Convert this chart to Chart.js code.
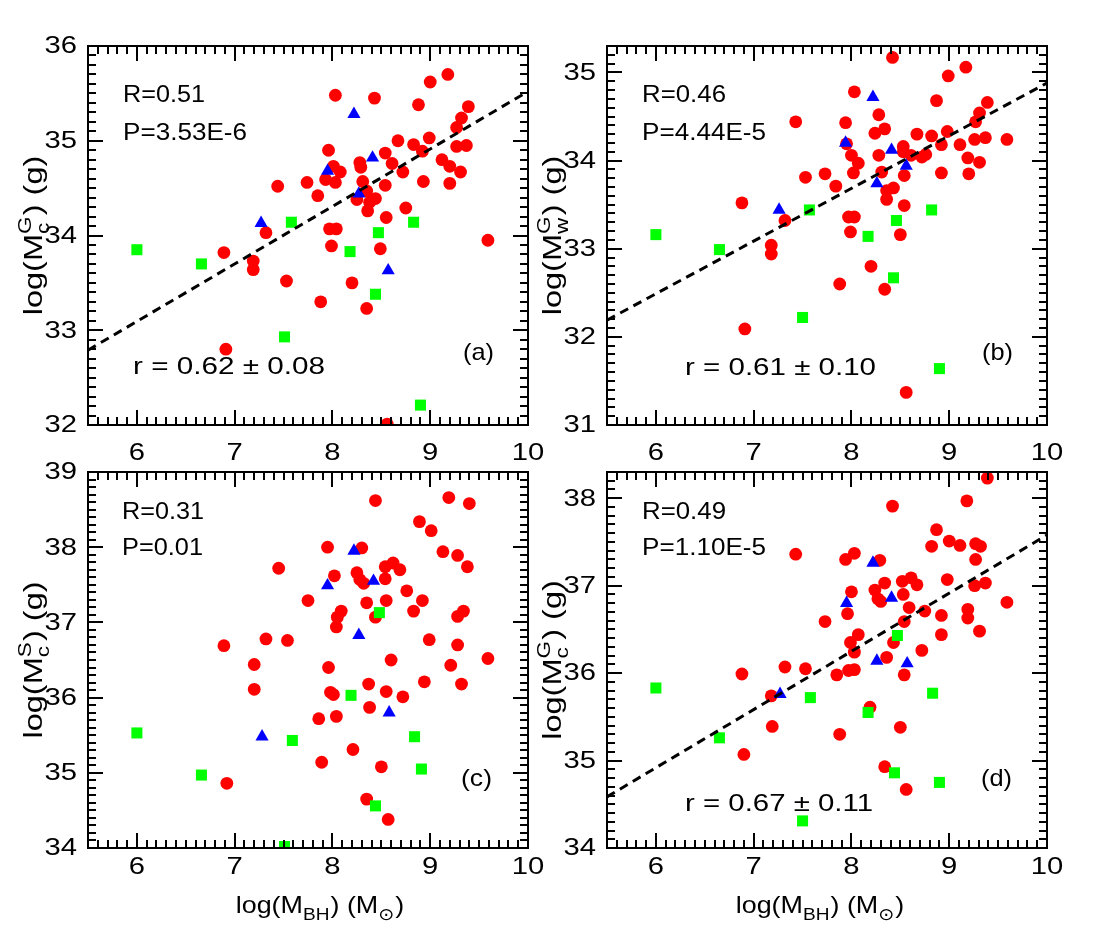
<!DOCTYPE html>
<html>
<head>
<meta charset="utf-8">
<script src="https://cdn.jsdelivr.net/npm/chart.js@4.4.1/dist/chart.umd.min.js"></script>
<style>
html,body{margin:0;padding:0;background:#ffffff;overflow:hidden;}
#wrap{position:relative;width:1102px;height:945px;background:#fff;}
#wrap canvas{position:absolute;left:0;top:0;}
</style>
</head>
<body>
<div id="wrap">
<canvas id="cA" width="1102" height="945"></canvas>
<canvas id="cB" width="1102" height="945"></canvas>
<canvas id="cC" width="1102" height="945"></canvas>
<canvas id="cD" width="1102" height="945"></canvas>
</div>
<script>
// ---------------- data ----------------
const xTicks = [6, 7, 8, 9, 10];
const yTicksA = [32, 33, 34, 35, 36];
const yTicksB = [31, 32, 33, 34, 35];
const yTicksC = [34, 35, 36, 37, 38, 39];
const yTicksD = [34, 35, 36, 37, 38];

// panel (a): log(Mc^G) vs log(MBH)
const aRed = [[8.03,35.48],[8.43,35.45],[9.18,35.70],[9.00,35.62],[8.88,35.38],[9.39,35.36],[9.32,35.24],[9.27,35.14],[8.67,35.00],[8.83,34.96],[8.99,35.03],[8.92,34.89],[9.27,34.94],[9.37,34.95],[7.96,34.90],[8.54,34.87],[8.28,34.77],[8.61,34.76],[9.12,34.80],[9.20,34.73],[9.31,34.67],[8.01,34.73],[8.08,34.67],[8.72,34.67],[8.29,34.72],[7.74,34.56],[7.93,34.59],[8.03,34.56],[8.31,34.57],[8.54,34.53],[8.93,34.57],[9.20,34.55],[7.85,34.42],[8.35,34.47],[8.25,34.38],[8.44,34.39],[8.38,34.35],[8.36,34.26],[8.75,34.29],[8.55,34.19],[7.97,34.07],[8.04,34.07],[9.59,33.95],[7.44,34.52],[7.32,34.03],[6.89,33.82],[7.19,33.73],[7.19,33.64],[7.53,33.52],[6.91,32.80],[7.99,33.89],[8.49,33.86],[8.20,33.50],[7.88,33.30],[8.35,33.23],[8.56,32.01]];
const aBlue = [[8.22,35.28],[8.41,34.82],[7.95,34.68],[8.27,34.44],[7.27,34.13],[8.57,33.63]];
const aGreen = [[7.58,34.14],[8.83,34.14],[8.47,34.03],[6.00,33.85],[6.66,33.70],[7.51,32.93],[8.18,33.83],[8.44,33.38],[8.90,32.21]];
const aFit = [[5.5,32.79],[10,35.52]];
const statsA = ['R=0.51', 'P=3.53E-6'];
const corrA = 'r = 0.62 \u00b1 0.08';

// panel (b): log(Mw^G) vs log(MBH)
const bRed = [[7.43,34.44],[6.88,33.52],[7.32,33.32],[7.18,33.04],[7.18,32.94],[6.91,32.09],[8.42,35.17],[9.17,35.06],[8.99,34.96],[8.03,34.78],[8.87,34.68],[9.39,34.66],[9.31,34.54],[8.28,34.52],[7.94,34.43],[9.27,34.44],[8.34,34.36],[8.24,34.31],[8.98,34.33],[8.67,34.30],[8.82,34.28],[9.26,34.24],[9.37,34.26],[9.59,34.24],[8.92,34.18],[9.11,34.18],[7.95,34.19],[8.53,34.16],[8.53,34.10],[8.61,34.06],[8.72,34.04],[8.76,34.07],[8.00,34.06],[8.28,34.06],[9.19,34.03],[8.07,33.97],[9.31,33.98],[8.02,33.86],[8.31,33.87],[8.92,33.86],[9.20,33.85],[8.54,33.83],[7.73,33.85],[7.53,33.81],[7.84,33.71],[8.43,33.69],[8.36,33.66],[8.36,33.56],[8.54,33.49],[7.97,33.36],[8.03,33.36],[7.99,33.19],[8.50,33.16],[8.20,32.80],[7.88,32.60],[8.34,32.54],[8.56,31.37]];
const bBlue = [[8.22,34.72],[7.94,34.20],[8.41,34.12],[8.56,33.94],[8.26,33.74],[7.26,33.44]];
const bGreen = [[6.00,33.16],[6.65,32.99],[7.50,32.22],[7.57,33.44],[8.82,33.44],[8.46,33.32],[8.17,33.14],[8.43,32.67],[8.90,31.64]];
const bFit = [[5.5,32.19],[10,34.88]];
const statsB = ['R=0.46', 'P=4.44E-5'];
const corrB = 'r = 0.61 \u00b1 0.10';

// panel (c): log(Mc^S) vs log(MBH)
const cRed = [[7.45,37.72],[7.75,37.29],[6.89,36.69],[7.32,36.78],[7.54,36.76],[7.20,36.44],[7.20,36.11],[6.92,34.86],[8.44,38.62],[9.19,38.66],[9.40,38.58],[8.89,38.34],[9.01,38.22],[7.95,38.00],[8.30,37.99],[9.13,37.94],[9.28,37.89],[9.38,37.74],[8.62,37.79],[8.54,37.74],[8.69,37.70],[8.02,37.62],[8.25,37.66],[8.28,37.57],[8.32,37.52],[8.54,37.58],[8.76,37.42],[8.35,37.26],[8.55,37.29],[8.92,37.29],[8.09,37.15],[8.05,37.07],[8.04,36.94],[8.83,37.15],[8.44,37.07],[9.34,37.15],[9.28,37.08],[8.99,36.77],[9.28,36.70],[8.60,36.50],[9.59,36.52],[9.21,36.43],[7.96,36.40],[8.37,36.18],[8.94,36.21],[9.32,36.18],[7.98,36.07],[8.01,36.04],[8.55,36.08],[8.72,36.01],[8.38,35.87],[7.86,35.72],[8.04,35.75],[8.21,35.31],[7.89,35.14],[8.50,35.08],[8.35,34.65],[8.57,34.38]];
const cBlue = [[8.22,37.95],[7.95,37.49],[8.42,37.55],[8.27,36.83],[8.58,35.80],[7.28,35.48]];
const cGreen = [[6.00,35.53],[7.59,35.43],[6.66,34.97],[7.51,34.02],[8.48,37.13],[8.19,36.03],[8.84,35.48],[8.91,35.05],[8.44,34.56]];
const statsC = ['R=0.31', 'P=0.01'];

// panel (d): log(Mc^G) vs log(MBH)
const dRed = [[7.43,37.36],[7.32,36.07],[6.88,35.99],[7.18,35.74],[7.19,35.39],[6.90,35.07],[9.39,38.23],[9.18,37.97],[8.42,37.91],[8.87,37.64],[9.00,37.51],[8.82,37.45],[9.11,37.46],[9.27,37.48],[9.32,37.45],[8.03,37.37],[7.94,37.30],[8.29,37.29],[9.27,37.30],[8.61,37.09],[8.52,37.05],[8.67,37.01],[8.34,37.03],[8.98,37.07],[9.37,37.03],[9.26,37.00],[8.00,36.93],[8.24,36.95],[8.53,36.90],[8.27,36.85],[8.30,36.82],[9.59,36.81],[8.59,36.75],[8.75,36.71],[9.19,36.73],[9.19,36.63],[8.92,36.66],[7.96,36.68],[7.73,36.59],[8.54,36.59],[9.31,36.48],[8.92,36.44],[8.07,36.44],[7.99,36.35],[8.43,36.35],[8.03,36.24],[8.72,36.26],[8.36,36.18],[7.53,36.05],[7.97,36.03],[8.03,36.04],[7.85,35.98],[8.54,35.98],[8.19,35.61],[8.50,35.38],[7.88,35.30],[8.34,34.93],[8.56,34.67]];
const dBlue = [[8.22,37.26],[7.95,36.80],[8.41,36.86],[8.26,36.14],[8.57,36.11],[7.27,35.76]];
const dGreen = [[6.00,35.83],[6.65,35.26],[7.50,34.31],[8.47,36.43],[7.58,35.72],[8.83,35.77],[8.17,35.55],[8.44,34.86],[8.90,34.75]];
const dFit = [[5.5,34.585],[10,37.58]];
const statsD = ['R=0.49', 'P=1.10E-5'];
const corrD = 'r = 0.67 \u00b1 0.11';

// axis titles (text with sub/superscripts)
const yTitleA = [{t:'log(M'},{sub:'c',sup:'G'},{t:') (g)'}];
const yTitleB = [{t:'log(M'},{sub:'w',sup:'G'},{t:') (g)'}];
const yTitleC = [{t:'log(M'},{sub:'c',sup:'S'},{t:') (g)'}];
const yTitleD = [{t:'log(M'},{sub:'c',sup:'G'},{t:') (g)'}];
const xTitle = [{t:'log(M'},{sub:'BH'},{t:') (M'},{sub:'\u2299'},{t:')'}];

// ---------------- drawing helpers ----------------
const FONT = '"Liberation Sans", Arial, Helvetica, "DejaVu Sans", sans-serif';

function drawStr(ctx, s, x, y, size, o) {
  ctx.save();
  ctx.font = size + 'px ' + FONT;
  ctx.textBaseline = 'middle';
  ctx.textAlign = 'left';
  ctx.fillStyle = '#000';
  const mw = ctx.measureText(s).width;
  const sx = o.w ? o.w / mw : (o.sx || 1);
  const w = mw * sx;
  const x0 = o.align === 'right' ? x - w : (o.align === 'center' ? x - w / 2 : x);
  ctx.translate(x0, y);
  ctx.scale(sx, 1);
  ctx.fillText(s, 0, 0);
  ctx.restore();
}

function drawRich(ctx, segs, cx, cy, rot, size, sx) {
  const sub = Math.round(size * 0.7);
  ctx.save();
  ctx.translate(cx, cy);
  if (rot) ctx.rotate(-Math.PI / 2);
  ctx.scale(sx, 1);
  ctx.fillStyle = '#000';
  ctx.textBaseline = 'alphabetic';
  ctx.textAlign = 'left';
  const widths = segs.map(s => {
    if (s.t !== undefined) { ctx.font = size + 'px ' + FONT; return ctx.measureText(s.t).width; }
    ctx.font = sub + 'px ' + FONT;
    return Math.max(s.sub ? ctx.measureText(s.sub).width : 0, s.sup ? ctx.measureText(s.sup).width : 0) + 1;
  });
  const total = widths.reduce((a, b) => a + b, 0);
  let x = -total / 2;
  segs.forEach((s, i) => {
    if (s.t !== undefined) { ctx.font = size + 'px ' + FONT; ctx.fillText(s.t, x, 0); }
    else {
      ctx.font = sub + 'px ' + FONT;
      if (s.sub) ctx.fillText(s.sub, x, size * 0.28);
      if (s.sup) ctx.fillText(s.sup, x, -size * 0.42);
    }
    x += widths[i];
  });
  ctx.restore();
}

function makePlugin(p) {
  return {
    id: 'idl' + p.id,
    afterDraw(chart) {
      const ctx = chart.ctx;
      const {left, top, right, bottom} = chart.chartArea;
      const xs = chart.scales.x, ys = chart.scales.y;
      ctx.save();
      ctx.strokeStyle = '#000';
      ctx.lineWidth = 2;
      ctx.lineCap = 'butt';
      ctx.strokeRect(left, top, right - left, bottom - top);
      ctx.beginPath();
      for (let i = Math.round(xs.min * 10); i <= Math.round(xs.max * 10); i++) {
        const px = Math.round(xs.getPixelForValue(i / 10));
        const L = (i % 10 === 0) ? 15 : 8;
        ctx.moveTo(px, bottom); ctx.lineTo(px, bottom - L);
        ctx.moveTo(px, top); ctx.lineTo(px, top + L);
      }
      for (let i = Math.round(ys.min * 10); i <= Math.round(ys.max * 10); i++) {
        const py = Math.round(ys.getPixelForValue(i / 10));
        const L = (i % 10 === 0) ? 15 : 8;
        ctx.moveTo(left, py); ctx.lineTo(left + L, py);
        ctx.moveTo(right, py); ctx.lineTo(right - L, py);
      }
      ctx.stroke();
      ctx.restore();

      const xt = (xs.ticks && xs.ticks.length) ? xs.ticks.map(t => t.value) : xTicks;
      xt.forEach(v => drawStr(ctx, String(v), xs.getPixelForValue(v), bottom + p.xLabOff, 23, {align:'center', sx:1.27}));
      const yt = (ys.ticks && ys.ticks.length) ? ys.ticks.map(t => t.value) : p.yTicks;
      yt.forEach(v => drawStr(ctx, String(v), left - 11, ys.getPixelForValue(v) + 1, 23, {align:'right', sx:1.27}));

      drawStr(ctx, p.stats[0], left + p.statsX, top + p.statsY[0], 24, {w: p.statsW[0]});
      drawStr(ctx, p.stats[1], left + p.statsX, top + p.statsY[1], 24, {w: p.statsW[1]});
      if (p.corr) drawStr(ctx, p.corr, p.corrX, p.corrY, 24, {w: p.corrW});
      drawStr(ctx, p.tag, right - p.tagR, p.tagY, 24, {align:'right', w: 31});

      drawRich(ctx, p.yTitle, p.yTitleX, (top + bottom) / 2, true, 26, 1.25);
      if (p.xTitleX) drawRich(ctx, xTitle, p.xTitleX, 913, false, 24, 1.12);
    }
  };
}

const toPts = arr => arr.map(([x, y]) => ({x, y}));

const panels = [
  {id:'cA', L:88, R:528, T:46, B:425, ymin:32, ymax:36, yTicks:yTicksA, red:aRed, blue:aBlue, green:aGreen, fit:aFit,
   stats:statsA, statsX:35, statsY:[49,87], statsW:[82,124], corr:corrA, corrX:133, corrY:367, corrW:192,
   tag:'(a)', tagR:34, tagY:353, yTitle:yTitleA, yTitleX:42, xLabOff:29, xTitleX:0},
  {id:'cB', L:607, R:1047, T:46, B:425, ymin:31, ymax:35.3, yTicks:yTicksB, red:bRed, blue:bBlue, green:bGreen, fit:bFit,
   stats:statsB, statsX:35, statsY:[49,87], statsW:[84,124], corr:corrB, corrX:685, corrY:368, corrW:191,
   tag:'(b)', tagR:34, tagY:353, yTitle:yTitleB, yTitleX:561, xLabOff:29, xTitleX:0},
  {id:'cC', L:88, R:528, T:472, B:848, ymin:34, ymax:39, yTicks:yTicksC, red:cRed, blue:cBlue, green:cGreen, fit:null,
   stats:statsC, statsX:34, statsY:[40,76], statsW:[82,81], corr:null,
   tag:'(c)', tagR:36, tagY:779, yTitle:yTitleC, yTitleX:42, xLabOff:20, xTitleX:320},
  {id:'cD', L:607, R:1047, T:472, B:848, ymin:34, ymax:38.3, yTicks:yTicksD, red:dRed, blue:dBlue, green:dGreen, fit:dFit,
   stats:statsD, statsX:35, statsY:[40,76], statsW:[84,124], corr:corrD, corrX:685, corrY:804, corrW:188,
   tag:'(d)', tagR:35, tagY:779, yTitle:yTitleD, yTitleX:561, xLabOff:20, xTitleX:820}
];

panels.forEach(p => {
  const datasets = [];
  if (p.fit) datasets.push({type:'line', data: toPts(p.fit), borderColor:'#000', borderWidth:3, borderDash:[9,6],
    pointRadius:0, showLine:true, fill:false, order:0, clip:0});
  datasets.push({data: toPts(p.green), pointStyle:'rect', pointRadius:7.8, backgroundColor:'#00ff00', borderWidth:0, order:1, clip:0});
  datasets.push({data: toPts(p.blue), pointStyle:'triangle', pointRadius:7.6, backgroundColor:'#0000ff', borderWidth:0, order:2, clip:0});
  datasets.push({data: toPts(p.red), pointStyle:'circle', pointRadius:6.4, backgroundColor:'#ff0000', borderWidth:0, order:3, clip:0});

  new Chart(document.getElementById(p.id), {
    type: 'scatter',
    data: { datasets },
    options: {
      responsive: false,
      animation: false,
      events: [],
      layout: { padding: { left: p.L, top: p.T, right: 1102 - p.R, bottom: 945 - p.B } },
      plugins: { legend: { display: false }, tooltip: { enabled: false } },
      scales: {
        x: { type:'linear', display:false, min:5.5, max:10,
             afterBuildTicks: s => { s.ticks = xTicks.map(v => ({value: v})); } },
        y: { type:'linear', display:false, min:p.ymin, max:p.ymax,
             afterBuildTicks: s => { s.ticks = p.yTicks.map(v => ({value: v})); } }
      }
    },
    plugins: [makePlugin(p)]
  });
});
</script>
</body>
</html>
